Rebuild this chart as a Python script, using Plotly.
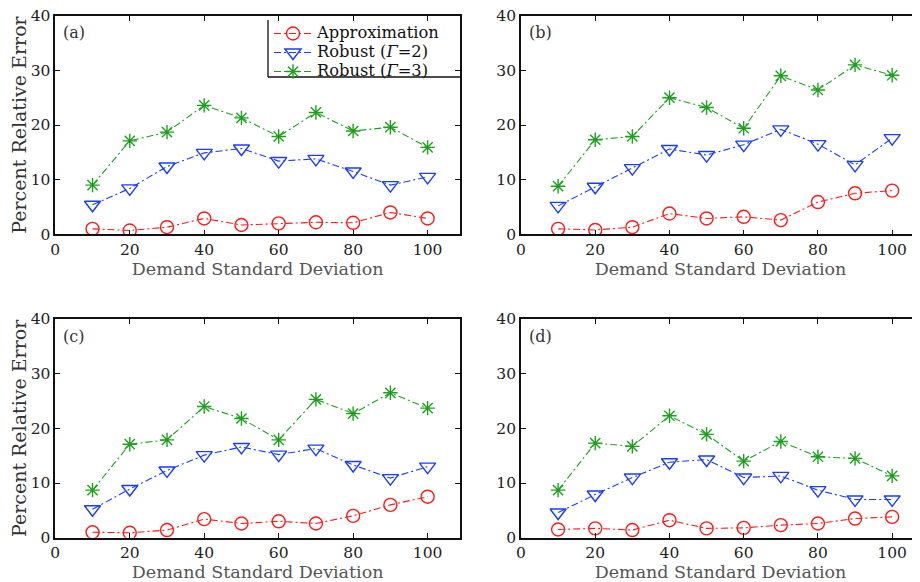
import plotly.graph_objects as go

sd = [10, 20, 30, 40, 50, 60, 70, 80, 90, 100]

approx_a = [1.0, 0.7, 1.3, 2.9, 1.7, 2.0, 2.2, 2.1, 4.0, 2.9]
rob2_a = [5.4, 8.4, 12.4, 14.9, 15.7, 13.4, 13.8, 11.5, 9.0, 10.5]
rob3_a = [9.0, 17.1, 18.7, 23.6, 21.3, 17.9, 22.3, 18.9, 19.6, 15.9]

approx_b = [1.0, 0.8, 1.3, 3.8, 2.9, 3.2, 2.6, 5.9, 7.5, 8.0]
rob2_b = [5.2, 8.7, 12.1, 15.6, 14.5, 16.4, 19.2, 16.5, 12.7, 17.6]
rob3_b = [8.8, 17.3, 17.9, 25.0, 23.2, 19.4, 29.0, 26.4, 31.0, 29.1]

approx_c = [1.0, 0.9, 1.4, 3.4, 2.6, 3.0, 2.6, 4.0, 6.0, 7.5]
rob2_c = [5.2, 8.9, 12.3, 15.1, 16.6, 15.2, 16.3, 13.3, 10.9, 13.0]
rob3_c = [8.7, 17.1, 17.9, 24.0, 21.8, 17.9, 25.3, 22.7, 26.5, 23.7]

approx_d = [1.5, 1.7, 1.4, 3.2, 1.7, 1.8, 2.3, 2.6, 3.5, 3.8]
rob2_d = [4.6, 7.9, 11.0, 13.8, 14.3, 11.0, 11.3, 8.7, 7.0, 7.0]
rob3_d = [8.7, 17.3, 16.7, 22.3, 18.9, 14.0, 17.6, 14.8, 14.5, 11.3]

series_names = ["Approximation", "Robust (<i>Γ</i>=2)", "Robust (<i>Γ</i>=3)"]
panel_labels = ["(a)", "(b)", "(c)", "(d)"]
y_title = "Percent Relative Error"
x_title = "Demand Standard Deviation"

panels = [
    (approx_a, rob2_a, rob3_a),
    (approx_b, rob2_b, rob3_b),
    (approx_c, rob2_c, rob3_c),
    (approx_d, rob2_d, rob3_d),
]

# the page body has an 8px margin: the figure starts at page (8, 8)
OFF = 8
W, H = 920 - OFF, 582 - OFF
FONT = "DejaVu Serif"
colors = ["#ff1a1a", "#1a3cff", "#1ea01e"]
symbols = ["circle-open", "triangle-down-open", "asterisk-open"]
sizes = [13, 14, 12]
dash = "7px,3px,2px,3px"


def px_x(p):
    return (p - OFF) / W


def px_y(p):
    return 1 - (p - OFF) / H


fig = go.Figure()

# geometry (page pixels)
xdom_px = [(55.3, 460.0), (521.0, 920.0), (55.3, 460.0), (521.0, 920.0)]
xmax = [108.7, 107.5, 108.7, 107.5]
ydom_px = [(15.7, 234.3), (15.7, 234.3), (319.0, 537.7), (319.0, 537.7)]

for i, data in enumerate(panels):
    ax = "" if i == 0 else str(i + 1)
    for j, vals in enumerate(data):
        fig.add_trace(go.Scatter(
            x=sd, y=vals, mode="lines+markers",
            name='<span style="font-size:16.3px">' + series_names[j] + "</span>",
            showlegend=(i == 0),
            line=dict(color=colors[j], width=1.1, dash=dash),
            marker=dict(symbol=symbols[j], size=sizes[j], color=colors[j],
                        line=dict(width=1.4, color=colors[j])),
            xaxis="x" + ax, yaxis="y" + ax,
        ))
    left = i % 2 == 0
    x0, x1 = xdom_px[i]
    yt, yb = ydom_px[i]
    xa = dict(
        domain=[px_x(x0), min(1.0, px_x(x1))], range=[0, xmax[i]],
        tickvals=[0, 20, 40, 60, 80, 100],
        ticks="inside", ticklen=5, tickwidth=1, tickcolor="#111",
        showline=True, linecolor="#111", linewidth=1.6,
        mirror="allticks", showgrid=False, zeroline=False,
        anchor="y" + ax, automargin=False, ticklabeloverflow="allow",
        tickfont=dict(family=FONT, size=15.5, color="#222"),
        title=dict(text=x_title, standoff=3,
                   font=dict(family=FONT, size=17.5, color="#555")),
    )
    ya = dict(
        domain=[px_y(yb), px_y(yt)], range=[0, 40],
        tickvals=[0, 10, 20, 30, 40],
        ticks="inside", ticklen=5, tickwidth=1, tickcolor="#111",
        showline=True, linecolor="#111", linewidth=1.6,
        mirror="allticks" if left else False,
        showgrid=False, zeroline=False,
        anchor="x" + ax, automargin=False, ticklabeloverflow="allow",
        tickfont=dict(family=FONT, size=15.5, color="#222"),
        title=dict(text=y_title if left else "", standoff=0,
                   font=dict(family=FONT, size=19, color="#333")),
    )
    fig.layout["xaxis" + ax] = xa
    fig.layout["yaxis" + ax] = ya
    fig.add_annotation(
        text=panel_labels[i], xref="paper", yref="paper",
        x=px_x(x0 + 6), y=px_y(yt + 17), xanchor="left", yanchor="middle",
        showarrow=False, font=dict(family=FONT, size=16, color="#333"),
    )

# legend box lines (left and bottom edges; right side is cropped in the reference)
fig.add_shape(type="line", xref="paper", yref="paper",
              x0=px_x(268), x1=px_x(268), y0=px_y(20), y1=px_y(77),
              line=dict(color="#111", width=1.3))
fig.add_shape(type="line", xref="paper", yref="paper",
              x0=px_x(268), x1=px_x(460), y0=px_y(77), y1=px_y(77),
              line=dict(color="#111", width=1.3))

fig.update_layout(
    width=W, height=H,
    margin=dict(l=0, r=0, t=0, b=0),
    paper_bgcolor="white", plot_bgcolor="white",
    showlegend=True,
    legend=dict(
        x=px_x(269), y=px_y(19), xanchor="left", yanchor="top",
        bgcolor="rgba(255,255,255,0)", borderwidth=0,
        font=dict(family=FONT, size=12.3, color="#111"),
        itemwidth=38, tracegroupgap=0,
    ),
)

fig.write_html("out.html")
